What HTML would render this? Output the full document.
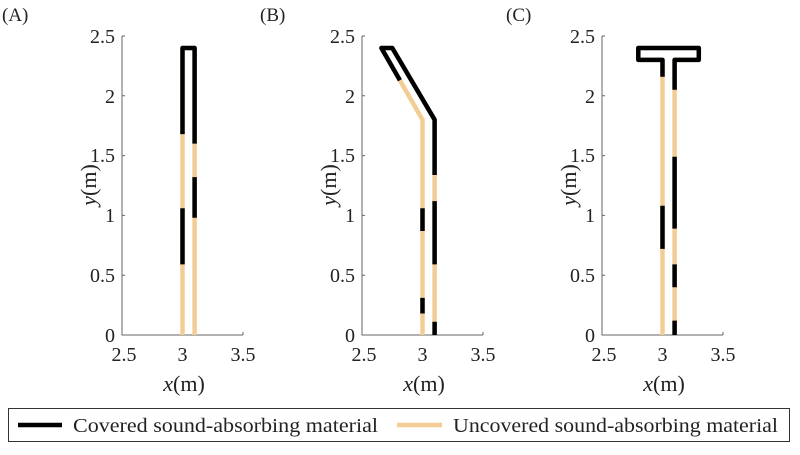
<!DOCTYPE html>
<html><head><style>
body{margin:0;background:#fff}
svg text{font-family:"Liberation Serif",serif;font-size:20px;fill:#222}
</style></head><body>
<svg width="800" height="450" viewBox="0 0 800 450" xmlns="http://www.w3.org/2000/svg">
<g>
<text x="2" y="21" style="font-size:19px">(A)</text><text x="260" y="21" style="font-size:19px">(B)</text><text x="506" y="21" style="font-size:19px">(C)</text>
</g>
<g stroke="#666" stroke-width="1" fill="none">
<path d="M122 36 V335 H243"/><path d="M362 36 V335 H483"/><path d="M602 36 V335 H723"/>
<path d="M122 275.2h3M122 215.4h3M122 155.6h3M122 95.8h3M122 36h3M182.5 335v-3M243 335v-3"/>
<path d="M362 275.2h3M362 215.4h3M362 155.6h3M362 95.8h3M362 36h3M422.5 335v-3M483 335v-3"/>
<path d="M602 275.2h3M602 215.4h3M602 155.6h3M602 95.8h3M602 36h3M662.5 335v-3M723 335v-3"/>
</g>
<g text-anchor="end">
<text x="115" y="342">0</text><text x="115" y="282">0.5</text><text x="115" y="222">1</text><text x="115" y="162">1.5</text><text x="115" y="103">2</text><text x="115" y="43">2.5</text>
<text x="355" y="342">0</text><text x="355" y="282">0.5</text><text x="355" y="222">1</text><text x="355" y="162">1.5</text><text x="355" y="103">2</text><text x="355" y="43">2.5</text>
<text x="595" y="342">0</text><text x="595" y="282">0.5</text><text x="595" y="222">1</text><text x="595" y="162">1.5</text><text x="595" y="103">2</text><text x="595" y="43">2.5</text>
</g>
<g text-anchor="middle">
<text x="124" y="361">2.5</text><text x="182.5" y="361">3</text><text x="243" y="361">3.5</text>
<text x="364" y="361">2.5</text><text x="422.5" y="361">3</text><text x="483" y="361">3.5</text>
<text x="604" y="361">2.5</text><text x="662.5" y="361">3</text><text x="723" y="361">3.5</text>
<text x="184" y="391" style="font-size:22px"><tspan font-style="italic">x</tspan>(m)</text>
<text x="424" y="391" style="font-size:22px"><tspan font-style="italic">x</tspan>(m)</text>
<text x="664" y="391" style="font-size:22px"><tspan font-style="italic">x</tspan>(m)</text>
<text transform="translate(96 185) rotate(-90)" style="font-size:22px"><tspan font-style="italic">y</tspan>(m)</text>
<text transform="translate(336 185) rotate(-90)" style="font-size:22px"><tspan font-style="italic">y</tspan>(m)</text>
<text transform="translate(576 185) rotate(-90)" style="font-size:22px"><tspan font-style="italic">y</tspan>(m)</text>
</g>
<g fill="none" stroke-width="4.5" stroke-linejoin="round">
<g stroke="#f3cd95">
<path d="M182.5 335 V48 H194.6 V335"/>
<path d="M422.5 335 V119.7 L381.4 48 H392.3 L434.6 119.7 V335"/>
<path d="M662.5 335 V59.9 H638.3 V48 H698.8 V59.9 H674.6 V335"/>
</g>
<g stroke="#000">
<path d="M182.5 264.4 V208.2M182.5 134.1 V48 H194.6 V143.6M194.6 217.8 V177.1"/>
<path d="M399.9 80.3 L381.4 48 H392.3 L434.6 119.7 V175M434.6 201.1 V264.4M434.6 321.8 V335M422.5 208.2 V231M422.5 297.9 V313.5"/>
<path d="M662.5 76.7 V59.9 H638.3 V48 H698.8 V59.9 H674.6 V89.8M674.6 156.8 V228.6M674.6 264.4 V287.2M674.6 320.6 V335M662.5 205.8 V248.9"/>
</g>
</g>
<rect x="8.5" y="408.5" width="781" height="33" fill="#fff" stroke="#333" stroke-width="1"/>
<line x1="18" y1="425" x2="62" y2="425" stroke="#000" stroke-width="4.5"/>
<text x="73" y="432" textLength="305" lengthAdjust="spacingAndGlyphs">Covered sound-absorbing material</text>
<line x1="397" y1="425" x2="442" y2="425" stroke="#f3cd95" stroke-width="4.5"/>
<text x="453" y="432" textLength="325" lengthAdjust="spacingAndGlyphs">Uncovered sound-absorbing material</text>
</svg>
</body></html>
